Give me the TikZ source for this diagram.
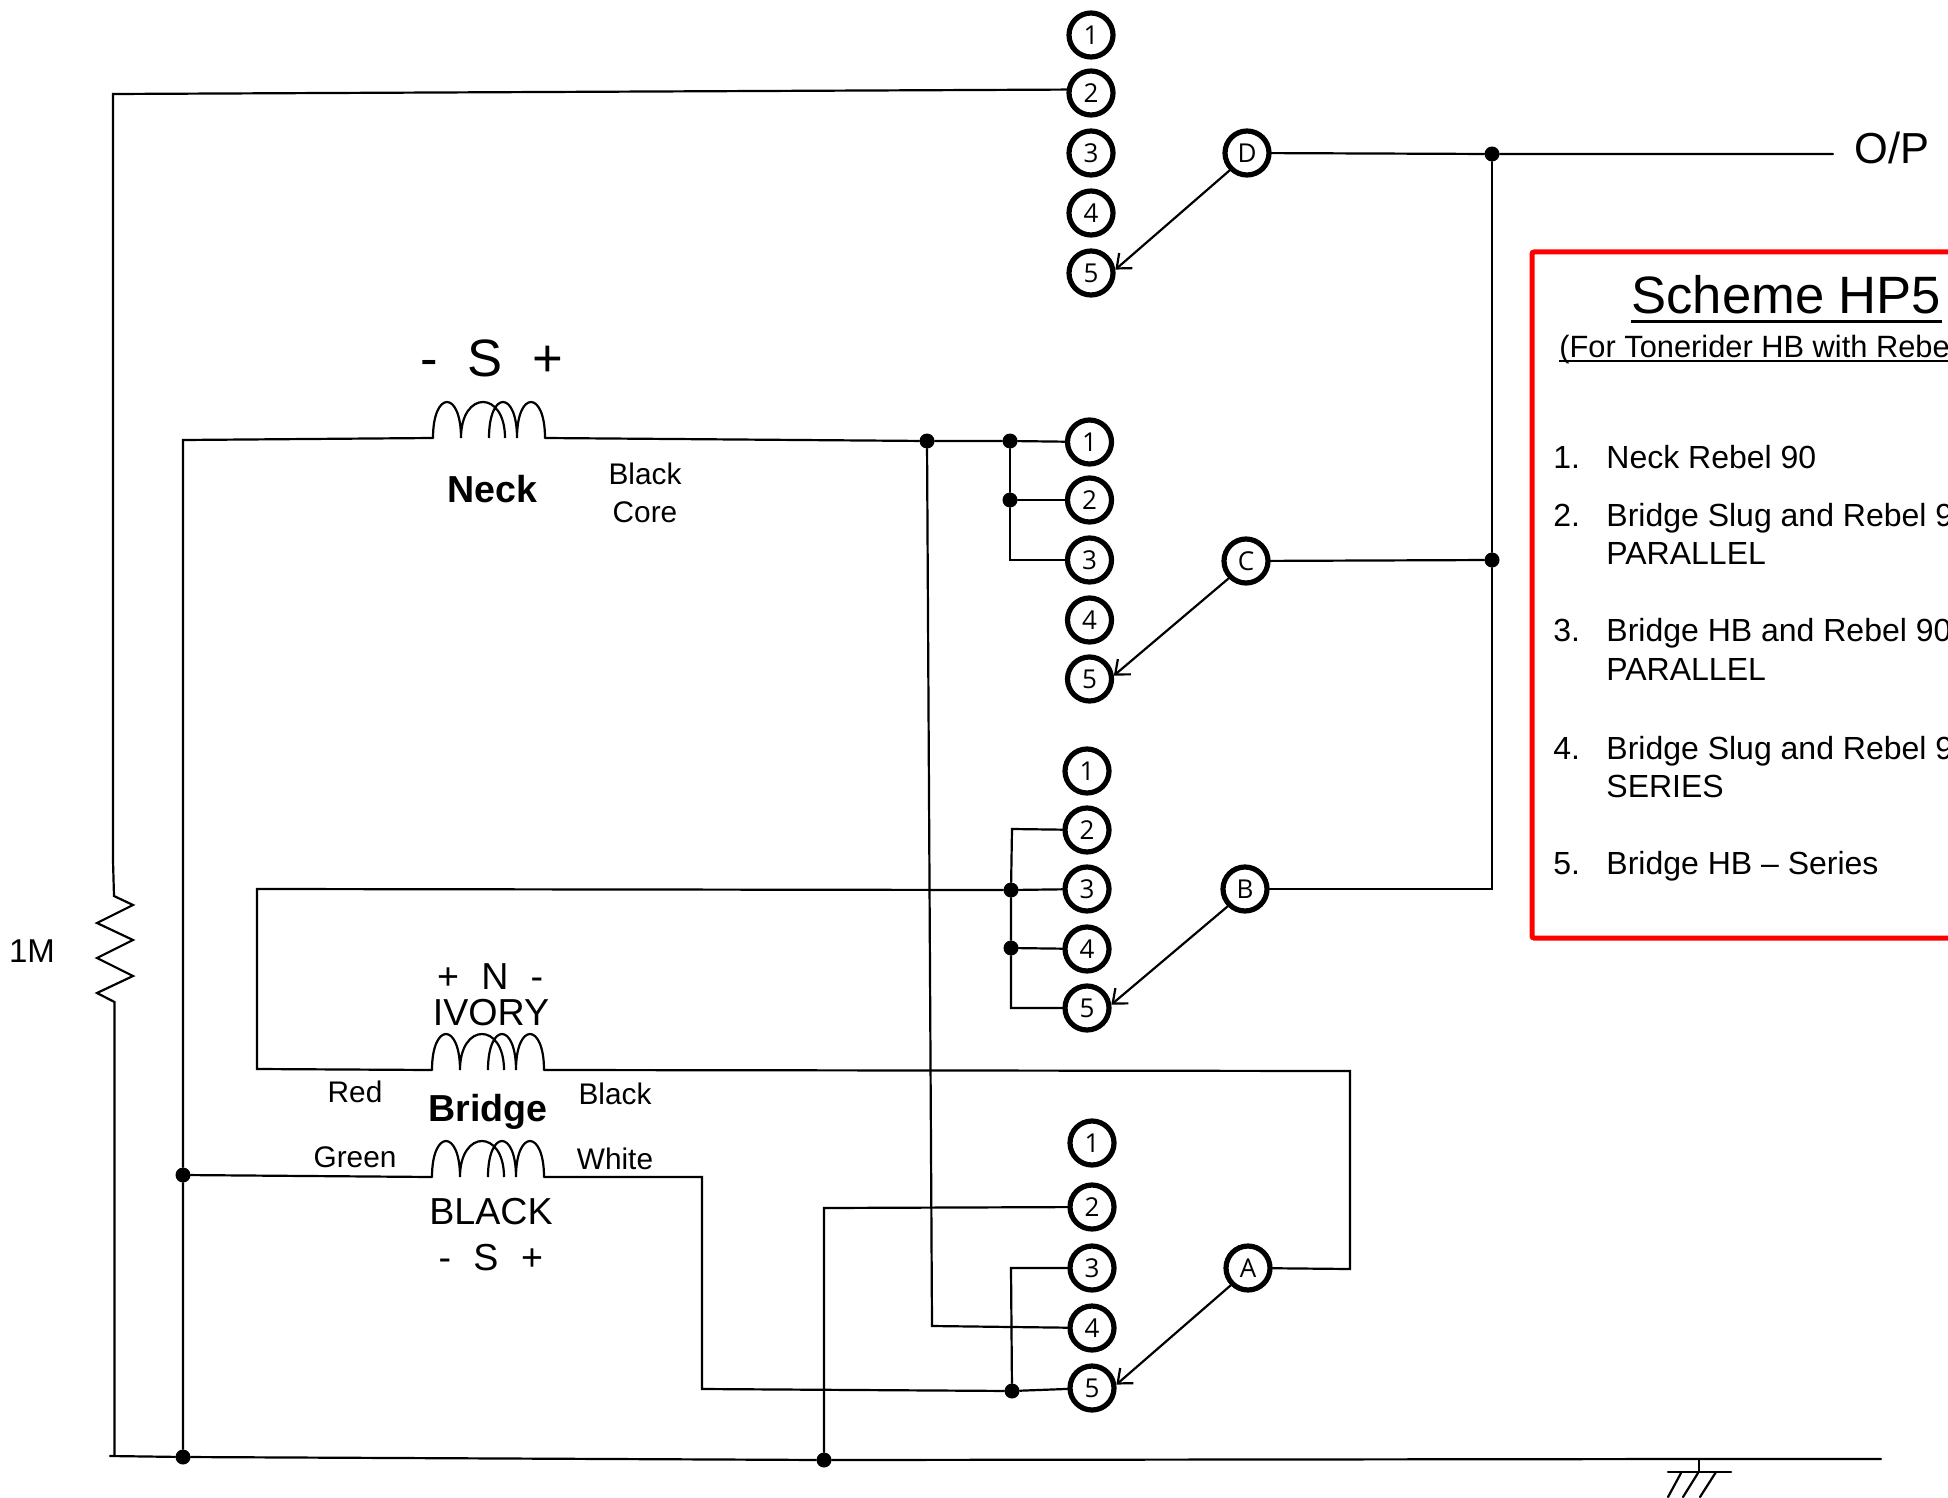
\documentclass[tikz,border=0pt]{standalone}
\usepackage{fontspec}
\setmainfont{Liberation Sans}
\newfontfamily\termfont{Open Sans}
\usetikzlibrary{arrows.meta,positioning}
\tikzset{
  wire/.style={line width=1.1pt,line cap=round},
  term/.style={circle,draw,line width=2.6pt,minimum size=22pt,inner sep=0pt,font=\termfont\fontsize{13}{15}\selectfont},
  dotnode/.style={circle,fill=black,inner sep=0pt,minimum size=7.5pt},
  txt/.style={anchor=base,inner sep=0pt},
  txtl/.style={anchor=base west,inner sep=0pt},
  hugetxt/.style={font=\fontsize{26.3}{30}\selectfont},
  midtxt/.style={font=\fontsize{18.8}{22}\selectfont},
  smalltxt/.style={font=\fontsize{14.9}{17}\selectfont},
  listtxt/.style={font=\fontsize{16}{19}\selectfont},
  coil/.pic={
    \draw[line width=1.1pt] (0,0) .. controls (0,-48) and (28,-48) .. (28,0)
      (28,0) .. controls (28,-48) and (72,-48) .. (72,0)
      (56,0) .. controls (56,-48) and (84,-48) .. (84,0)
      (84,0) .. controls (84,-48) and (112,-48) .. (112,0);
    \coordinate (-in) at (0,0);
    \coordinate (-out) at (112,0);
  }
}
\begin{document}
\begin{tikzpicture}[x=0.5pt,y=-0.5pt]
   \useasboundingbox (0,0) rectangle (1948,1498);
   \clip (0,0) rectangle (1948,1498);
   % selector contacts
   \foreach \y [count=\i] in {35,93,153,213,273} \node[term] (d_\i) at (1091,\y) {\i};
   \foreach \y [count=\i] in {442,500,560,620,679} \node[term] (c_\i) at (1089.5,\y) {\i};
   \foreach \y [count=\i] in {771,830,889,949,1008} \node[term] (b_\i) at (1087,\y) {\i};
   \foreach \y [count=\i] in {1143,1207,1268,1328,1388} \node[term] (a_\i) at (1092,\y) {\i};
   \node[term] (sw_d) at (1247,153) {D};
   \node[term] (sw_c) at (1246,561) {C};
   \node[term] (sw_b) at (1245,889) {B};
   \node[term] (sw_a) at (1248,1268) {A};
   % pickups
   \pic (neck) at (433,438) {coil};
   \pic (ivory) at (432,1070) {coil};
   \pic (black) at (432,1177) {coil};
   % junctions
   \node[dotnode] (j_op) at (1492,154) {};
   \node[dotnode] (j_c) at (1492,560) {};
   \node[dotnode] (j_neck) at (927,441) {};
   \node[dotnode] (j_c1) at (1010,441) {};
   \node[dotnode] (j_c2) at (1010,500) {};
   \node[dotnode] (j_b3) at (1011,890) {};
   \node[dotnode] (j_b4) at (1011,948) {};
   \node[dotnode] (j_a5) at (1012,1391) {};
   \node[dotnode] (j_gnd1) at (183,1457) {};
   \node[dotnode] (j_gnd2) at (824,1460) {};
   \node[dotnode] (j_green) at (183,1175) {};
   % corners and free ends
   \coordinate (p_top) at (113,94);
   \coordinate (p_rtop) at (113,861);
   \coordinate (p_rbot) at (114.5,1002);
   \coordinate (p_rgnd) at (114.5,1456);
   \coordinate (g_left) at (110,1456);
   \coordinate (g_stub) at (1699,1459);
   \coordinate (g_right) at (1881,1459);
   \coordinate (g_bar) at (1699,1472);
   \coordinate (p_neck) at (183,440);
   \coordinate (p_c3) at (1010,560);
   \coordinate (p_a4) at (932,1326);
   \coordinate (p_b2) at (1012,829);
   \coordinate (p_b5) at (1011,1008);
   \coordinate (p_red1) at (257,1069);
   \coordinate (p_red2) at (257,889);
   \coordinate (p_blk1) at (1350,1071);
   \coordinate (p_blk2) at (1350,1269);
   \coordinate (p_wht1) at (702,1177);
   \coordinate (p_wht2) at (702,1389);
   \coordinate (p_a2) at (824,1208);
   \coordinate (p_a3) at (1011,1268);
   \coordinate (p_b) at (1492,889);
   \coordinate (p_op) at (1833,154);
   % wiring
   \draw[wire] (d_2.172) -- (p_top) -- (p_rtop);
   \draw[wire] (p_rtop) -- (114,896) -- (133,905) -- (97,923) -- (133,940) -- (97,958) -- (133,976) -- (97,993) -- (p_rbot) -- (p_rgnd);
   \draw[wire] (g_left) -- (j_gnd1) -- (j_gnd2) -- (g_stub) -- (g_right);
   \draw[wire] (g_stub) -- (g_bar);
   \draw[wire] (1668,1472) -- (1731,1472);
   \draw[wire] (1681,1473) -- (1668,1497) (1698,1473) -- (1683,1497) (1716,1472) -- (1700,1497);
   \draw[wire] (j_gnd1) -- (j_green) -- (p_neck) -- (neck-in);
   \draw[wire] (neck-out) -- (j_neck) -- (j_c1) -- (c_1);
   \draw[wire] (j_c1) -- (j_c2) -- (p_c3) -- (c_3);
   \draw[wire] (j_c2) -- (c_2);
   \draw[wire] (j_neck) -- (p_a4) -- (a_4);
   \draw[wire] (ivory-in) -- (p_red1) -- (p_red2) -- (j_b3) -- (b_3);
   \draw[wire] (b_2) -- (p_b2) -- (j_b3) -- (j_b4) -- (p_b5) -- (b_5);
   \draw[wire] (j_b4) -- (b_4);
   \draw[wire] (ivory-out) -- (p_blk1) -- (p_blk2) -- (sw_a);
   \draw[wire] (j_green) -- (black-in);
   \draw[wire] (black-out) -- (p_wht1) -- (p_wht2) -- (j_a5) -- (a_5);
   \draw[wire] (a_2) -- (p_a2) -- (j_gnd2);
   \draw[wire] (a_3) -- (p_a3) -- (j_a5);
   \draw[wire] (sw_d) -- (j_op) -- (p_op);
   \draw[wire] (j_op) -- (j_c) -- (p_b) -- (sw_b);
   \draw[wire] (sw_c) -- (j_c);
   % wipers
   \path[wire,-{Straight Barb[length=6pt,width=10pt]}]
    (sw_d.225) edge (d_5.8)
    (sw_c.225) edge (c_5.8)
    (sw_b.225) edge (b_5.8)
    (sw_a.225) edge (a_5.8);
   % labels
   \node[txt,font=\fontsize{16.5}{19}\selectfont] (lbl_1m) at (32,962) {1M};
   \node[txt,font=\fontsize{21.7}{25}\selectfont] (lbl_op) at (1892,164) {O/P};
   \node[txt,hugetxt] at (429,376) {-};
   \node[txt,hugetxt] at (485,376) {S};
   \node[txt,hugetxt] at (548,376) {+};
   \node[txt,font=\bfseries\fontsize{18.8}{22}\selectfont] (lbl_neck) at (492,502) {Neck};
   \node[txt,smalltxt] at (645,484) {Black};
   \node[txt,smalltxt] at (645,522) {Core};
   \node[txt,midtxt] at (448,989) {+};
   \node[txt,midtxt] at (495,989) {N};
   \node[txt,midtxt] at (537,989) {-};
   \node[txt,midtxt] at (491,1025) {IVORY};
   \node[txt,smalltxt] at (355,1102) {Red};
   \node[txt,smalltxt] at (615,1104) {Black};
   \node[txt,font=\bfseries\fontsize{18.8}{22}\selectfont] (lbl_bridge) at (488,1121) {Bridge};
   \node[txt,smalltxt] at (355,1167) {Green};
   \node[txt,smalltxt] at (615,1169) {White};
   \node[txt,midtxt] at (491,1224) {BLACK};
   \node[txt,midtxt] at (445,1270) {-};
   \node[txt,midtxt] at (486,1270) {S};
   \node[txt,midtxt] at (532,1270) {+};
   % scheme box
   \draw[red,line width=2.5pt,rounded corners=1pt] (1532,252) rectangle (1970,938);
   \node[txtl,hugetxt] (title) at (1631,314) {Scheme HP5};
   \node[txtl,font=\fontsize{15.4}{18}\selectfont] (subtitle) at (1559,357) {(For Tonerider HB with Rebe};
   \draw[line width=1.5pt] ([yshift=-3.5pt]title.base west) -- ([yshift=-3.5pt]title.base east);
   \draw[line width=0.8pt] ([yshift=-2pt]subtitle.base west) -- ([yshift=-2pt]subtitle.base east);
   \foreach \y/\n/\t in {468/1./Neck Rebel 90,526/2./Bridge Slug and Rebel 9,641/3./Bridge HB and Rebel 90,759/4./Bridge Slug and Rebel 9,874/5./Bridge HB – Series} {
     \node[txtl,listtxt] at (1553,\y) {\n};
     \node[txtl,listtxt] at (1606,\y) {\t};
   }
   \node[txtl,listtxt] at (1606,564) {PARALLEL};
   \node[txtl,listtxt] at (1606,680) {PARALLEL};
   \node[txtl,listtxt] at (1606,797) {SERIES};
\end{tikzpicture}
\end{document}
